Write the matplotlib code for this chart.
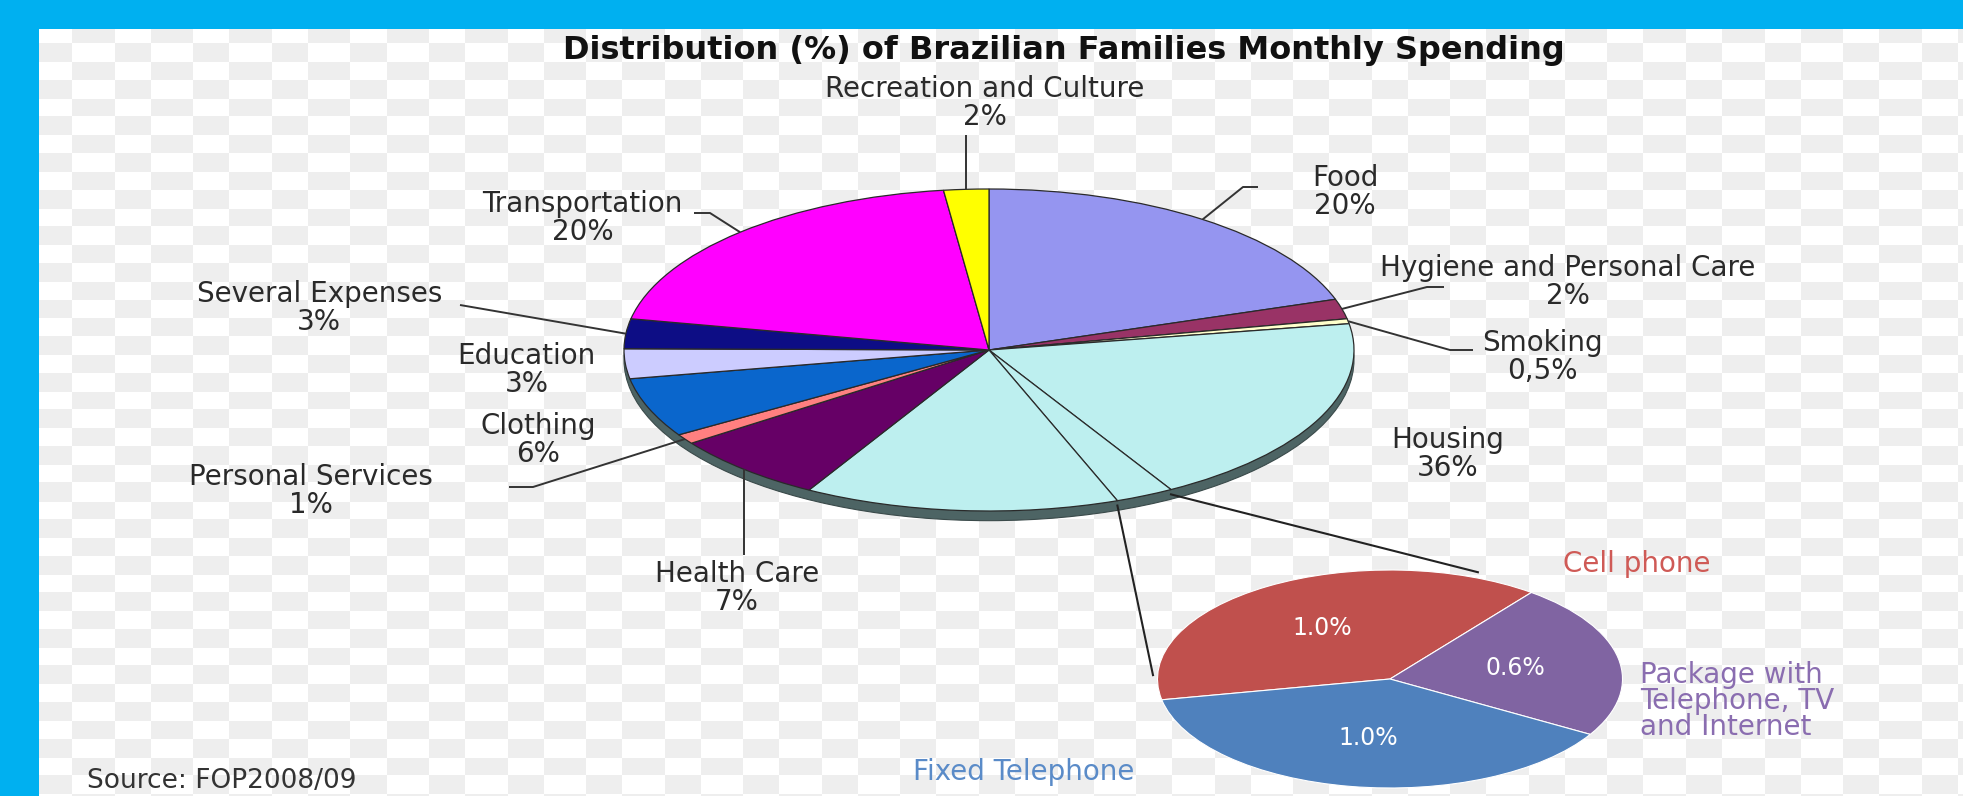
import numpy as np
import matplotlib
matplotlib.use('Agg')
import matplotlib.pyplot as plt
from matplotlib.patches import Ellipse, Rectangle

W, H, DPI = 1963, 796, 100
BLUE = '#00B0F0'

# ---------------- data ----------------
title = 'Distribution (%) of Brazilian Families Monthly Spending'
categories = ['Food', 'Hygiene and Personal Care', 'Smoking', 'Housing', 'Health Care',
              'Personal Services', 'Clothing', 'Education', 'Several Expenses',
              'Transportation', 'Recreation and Culture']
values = [20, 2, 0.5, 36, 7, 1, 6, 3, 3, 20, 2]
pct_labels = ['20%', '2%', '0,5%', '36%', '7%', '1%', '6%', '3%', '3%', '20%', '2%']
colors = ['#9595F0', '#993366', '#FFFFCC', '#BDEFEF', '#660066', '#FF8080',
          '#0A66CC', '#CCCCFF', '#0D0D85', '#FF00FF', '#FFFF00']

# telephone spending (part of Housing)
phone_categories = ['Cell phone', 'Package with\nTelephone, TV\nand Internet', 'Fixed Telephone']
phone_values = [1.0, 0.6, 1.0]
phone_colors = ['#C0504D', '#8064A2', '#4F81BD']
phone_text_colors = ['#CF5A56', '#8A6DB0', '#5A8BC8']
housing_before_phone = 19.4   # share of Housing drawn before the telephone wedge

source = 'Source: FOP2008/09'

# ---------------- figure ----------------
fig = plt.figure(figsize=(W / DPI, H / DPI), dpi=DPI)

# background: transparency checkerboard + blue frame
bg = fig.add_axes([0, 0, 1, 1])
bg.set_axis_off()
bg.set_zorder(0)


def band_index(p, start, wide, narrow):
    period = wide + narrow
    n = np.floor((p - start) / period)
    rem = p - start - n * period
    return 2 * n + (rem >= wide)


xs = np.arange(W) + 0.5
ys = np.arange(H) + 0.5
ci = band_index(xs, 72.3, 42.5, 36.06)
ri = band_index(ys, 43.3, 19.0, 17.6)
even = ((ci[None, :] + ri[:, None]) % 2) == 0
img = np.where(even[..., None], np.array([1.0, 1.0, 1.0]), np.array([0.937, 0.937, 0.937]))
bg.imshow(img, extent=(0, W, H, 0), interpolation='nearest', aspect='auto')
bg.set_xlim(0, W)
bg.set_ylim(H, 0)
bg.add_patch(Rectangle((0, 0), W, 29, color=BLUE, lw=0))
bg.add_patch(Rectangle((0, 0), 39, H, color=BLUE, lw=0))


def px_axes(cx, cy, rx, ry):
    ax = fig.add_axes([(cx - rx) / W, (H - (cy + ry)) / H, 2 * rx / W, 2 * ry / H])
    ax.set_zorder(1)
    return ax


# ---------------- main pie ----------------
axm = px_axes(989, 350, 365, 161)
wv, wc, wcat = [], [], []
phone_total = sum(phone_values)
for c, v, col in zip(categories, values, colors):
    if c == 'Housing':
        parts = [housing_before_phone, phone_total, v - housing_before_phone - phone_total]
        tags = ['Housing', 'phone', 'Housing']
        for p, t in zip(parts, tags):
            wv.append(p); wc.append(col); wcat.append(t)
    else:
        wv.append(v); wc.append(col); wcat.append(c)

wedges, _ = axm.pie(wv, colors=wc, startangle=90, counterclock=False,
                    wedgeprops=dict(edgecolor='#2a2a2a', linewidth=0.9))
axm.set_xlim(-1, 1)
axm.set_ylim(-1, 1)
axm.set_aspect('auto')
axm.axis('off')
axm.add_patch(Ellipse((0, -0.06), 2, 2, fc='#4d6464', ec='#3a4a4a', lw=0.8,
                      zorder=0.5, clip_on=False))
for w in wedges:
    w.set_clip_on(False)

# ---------------- small pie ----------------
axs = px_axes(1390, 679, 232.5, 109)
sw, st, sa = axs.pie(phone_values, colors=phone_colors, startangle=191, counterclock=False,
                     autopct=lambda p: f'{p * phone_total / 100:.1f}%', pctdistance=0.55,
                     wedgeprops=dict(edgecolor='white', linewidth=0.8),
                     textprops=dict(color='white', fontsize=17))
axs.set_xlim(-1, 1)
axs.set_ylim(-1, 1)
axs.set_aspect('auto')
axs.axis('off')
for w in sw:
    w.set_clip_on(False)

# ---------------- overlay: texts and leaders ----------------
ov = fig.add_axes([0, 0, 1, 1])
ov.set_xlim(0, W)
ov.set_ylim(H, 0)
ov.axis('off')
ov.set_zorder(3)


def to_ov(ax, x, y):
    d = ax.transData.transform((x, y))
    return ov.transData.inverted().transform(d)


def rim_point(tag, r=1.0):
    for w, t in zip(wedges, wcat):
        if t == tag:
            a = np.deg2rad((w.theta1 + w.theta2) / 2)
            return to_ov(axm, r * np.cos(a), r * np.sin(a))


LINE = '#333333'
ov.text(1064, 51, title, ha='center', va='center', fontsize=23, fontweight='bold', color='#111111')

label_pos = {
    'Recreation and Culture': (985, 131, 'center', 'bottom'),
    'Food': (1345, 192, 'center', 'center'),
    'Hygiene and Personal Care': (1380, 282, 'left', 'center'),
    'Smoking': (1482, 357, 'left', 'center'),
    'Housing': (1448, 454, 'center', 'center'),
    'Health Care': (737, 560, 'center', 'top'),
    'Personal Services': (433, 491, 'right', 'center'),
    'Clothing': (596, 440, 'right', 'center'),
    'Education': (596, 370, 'right', 'center'),
    'Several Expenses': (442, 308, 'right', 'center'),
    'Transportation': (683, 218, 'right', 'center'),
}
for c, p in zip(categories, pct_labels):
    x, y, ha, va = label_pos[c]
    ov.text(x, y, f'{c}\n{p}', ha=ha, va=va, multialignment='center', fontsize=20,
            color='#2a2a2a', linespacing=1.0)

leaders = {
    'Recreation and Culture': [('v', 135)],
    'Food': [(1243, 187), (1258, 187)],
    'Hygiene and Personal Care': [(1427, 287), (1444, 287)],
    'Smoking': [(1450, 350), (1473, 350)],
    'Transportation': [(710, 213), (694, 213)],
    'Several Expenses': [(460, 305)],
    'Personal Services': [(533, 487), (509, 487)],
    'Health Care': [('v', 555)],
}
for c, pts in leaders.items():
    x0, y0 = rim_point(c)
    px, py = [x0], [y0]
    for pt in pts:
        if pt[0] == 'v':
            px.append(x0); py.append(pt[1])
        else:
            px.append(pt[0]); py.append(pt[1])
    ov.plot(px, py, color=LINE, lw=1.4, solid_capstyle='butt')

# connectors from the telephone wedge to the small pie
phone_w = [w for w, t in zip(wedges, wcat) if t == 'phone'][0]
targets = [(phone_w.theta2, 68.9, 1.05), (phone_w.theta1, 178.0, 1.02)]
for th_main, th_small, r_small in targets:
    a = np.deg2rad(th_main)
    x0, y0 = to_ov(axm, np.cos(a), np.sin(a) - 0.03)
    b = np.deg2rad(th_small)
    x1, y1 = to_ov(axs, r_small * np.cos(b), r_small * np.sin(b))
    ov.plot([x0, x1], [y0, y1], color='#222222', lw=1.5)

# small pie labels
ov.text(1637, 564, phone_categories[0], ha='center', va='center', fontsize=20,
        color=phone_text_colors[0])
ov.text(1640, 701, phone_categories[1], ha='left', va='center', fontsize=20,
        color=phone_text_colors[1], linespacing=0.92)
ov.text(1024, 772, phone_categories[2], ha='center', va='center', fontsize=20,
        color=phone_text_colors[2])

ov.text(87, 794, source, ha='left', va='bottom', fontsize=19, color='#333333')

fig.savefig('out.png', dpi=DPI)
